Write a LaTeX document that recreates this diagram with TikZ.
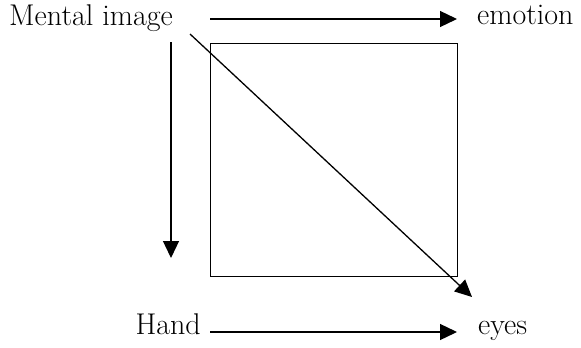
\documentclass[tikz,border=0pt]{standalone}
\usepackage{fontspec}
\usetikzlibrary{arrows.meta}
\tikzset{
  word/.style={font=\fontsize{30}{33}\selectfont,inner sep=0pt,text=black},
  arr/.style={-{Triangle[length=17pt,width=16pt]},draw=black,line width=1.3pt},
  frame/.style={draw=black,line width=1.3pt,fill=none}
}
\begin{document}
\begin{tikzpicture}[x=1pt,y=-1pt]
\path[use as bounding box] (0,0) rectangle (581,348);
\node[word,anchor=base east] (mental) at (173,25) {Mental image};
\node[word,anchor=base west] (emotion) at (477,24) {emotion};
\node[word,anchor=base east] (hand) at (201,334) {Hand};
\node[word,anchor=base west] (eyes) at (478,334) {eyes};
\node[frame,minimum width=247pt,minimum height=233pt,anchor=north west] (square) at (210,43) {};
\coordinate (down) at (171,258);

\draw[arr] ([shift={(37pt,6pt)}]mental.base east) -- ([shift={(-20pt,5pt)}]emotion.base west);
\draw[arr] ([shift={(-2pt,-17pt)}]mental.base east) -- (down);
\draw[arr] ([shift={(17pt,-9pt)}]mental.base east) -- ([shift={(-6pt,37pt)}]eyes.base west);
\draw[arr] ([shift={(9pt,2pt)}]hand.base east) -- ([shift={(-21pt,2pt)}]eyes.base west);
\end{tikzpicture}
\end{document}
